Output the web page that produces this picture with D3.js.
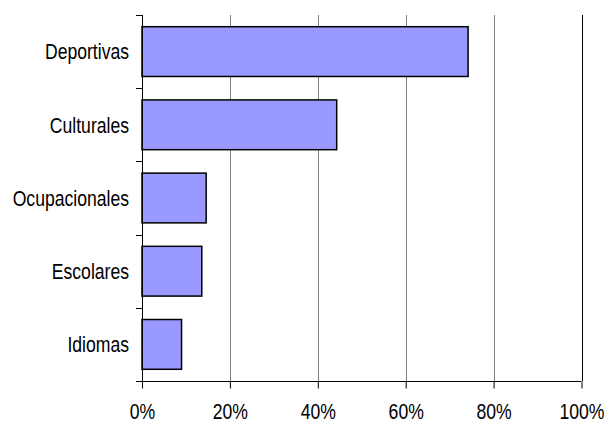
<!DOCTYPE html>
<html>
<head>
<meta charset="utf-8">
<script src="https://cdn.jsdelivr.net/npm/d3@7"></script>
<style>
  body { margin: 0; background: #fff; }
  text { font-family: "Liberation Sans", Arial, sans-serif; fill: #000; }
</style>
</head>
<body>
<div id="chart"></div>
<script>
// Data
var categories = ["Deportivas", "Culturales", "Ocupacionales", "Escolares", "Idiomas"];
var values = [74.2, 44.3, 14.6, 13.6, 9.0];
var tickValues = [0, 20, 40, 60, 80, 100];

// Canvas attributes
var width = 606, height = 425;
var plotLeft = 142, plotRight = 581.5, plotTop = 15, plotBottom = 381;
var fontSize = 22, squeeze = 0.8;

var svg = d3.select("#chart").append("svg")
  .attr("width", width)
  .attr("height", height);

var x = d3.scaleLinear().domain([0, 100]).range([plotLeft, plotRight]);
var y = d3.scaleBand().domain(categories).range([plotTop, plotBottom]).paddingInner(0.32).paddingOuter(0.16);

// gridlines
svg.append("g")
  .selectAll("line")
  .data(tickValues.slice(1))
  .enter()
  .append("line")
  .attr("x1", function(d) { return Math.round(x(d)) + 0.5; })
  .attr("x2", function(d) { return Math.round(x(d)) + 0.5; })
  .attr("y1", plotTop)
  .attr("y2", plotBottom)
  .attr("stroke", function(d) { return d === 100 ? "#000" : "#808080"; })
  .attr("stroke-width", 1);

// bars
svg.append("g")
  .selectAll("rect")
  .data(values)
  .enter()
  .append("rect")
  .attr("x", x(0))
  .attr("y", function(d, i) { return y(categories[i]); })
  .attr("width", function(d) { return x(d) - x(0); })
  .attr("height", y.bandwidth())
  .attr("fill", "#9999ff")
  .attr("stroke", "#000")
  .attr("stroke-width", 1.5);

// x axis
var xAxis = d3.axisBottom(x)
  .tickValues(tickValues)
  .tickSize(7)
  .tickFormat(function(d) { return d + "%"; });
var gx = svg.append("g")
  .attr("transform", "translate(0," + (plotBottom + 0.5) + ")")
  .call(xAxis);
gx.select(".domain").attr("stroke", "#000").attr("d", "M" + plotLeft + ",0H" + plotRight);
gx.selectAll(".tick line").attr("stroke", "#000");
gx.selectAll(".tick text")
  .attr("font-size", fontSize)
  .attr("y", 0)
  .attr("dy", 0)
  .attr("transform", "translate(0,37.5) scale(" + squeeze + ",1)");

// y axis (category boundaries as ticks)
var boundaries = [];
for (var i = 0; i <= categories.length; i++) {
  boundaries.push(plotTop + i * (plotBottom - plotTop) / categories.length);
}
svg.append("line")
  .attr("x1", plotLeft + 0.5).attr("x2", plotLeft + 0.5)
  .attr("y1", plotTop).attr("y2", plotBottom)
  .attr("stroke", "#000");
svg.append("g")
  .selectAll("line")
  .data(boundaries)
  .enter()
  .append("line")
  .attr("x1", plotLeft - 6)
  .attr("x2", plotLeft)
  .attr("y1", function(d) { return Math.round(d) + 0.5; })
  .attr("y2", function(d) { return Math.round(d) + 0.5; })
  .attr("stroke", "#000");

svg.append("g")
  .selectAll("text")
  .data(categories)
  .enter()
  .append("text")
  .attr("transform", function(d) {
    return "translate(129," + (y(d) + y.bandwidth() / 2) + ") scale(" + squeeze + ",1)";
  })
  .attr("dy", "0.35em")
  .attr("text-anchor", "end")
  .attr("font-size", fontSize)
  .text(function(d) { return d; });
</script>
</body>
</html>
